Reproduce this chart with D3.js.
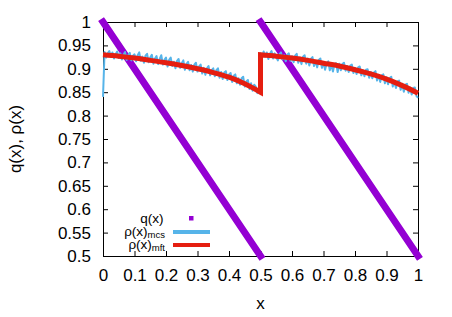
<!DOCTYPE html>
<html>
<head>
<meta charset="utf-8">
<script src="https://cdn.jsdelivr.net/npm/d3@7"></script>
<style>
  body { margin: 0; background: #fff; }
  text { font-family: "Liberation Sans", Arial, sans-serif; }
</style>
</head>
<body>
<div id="chart"></div>
<script>
// chart values
let xTicks = [0, 0.1, 0.2, 0.3, 0.4, 0.5, 0.6, 0.7, 0.8, 0.9, 1];
let yTicks = [0.5, 0.55, 0.6, 0.65, 0.7, 0.75, 0.8, 0.85, 0.9, 0.95, 1];

// q(x): two straight branches
let qBranches = [
    [[0, 1], [0.5, 0.5]],
    [[0.5, 1], [1, 0.5]]
];

// rho(x) mft, sampled every 0.05 on each half
let mftX1 = [0, 0.05, 0.1, 0.15, 0.2, 0.25, 0.3, 0.35, 0.4, 0.45, 0.5];
let mftY1 = [0.930, 0.927, 0.923, 0.918, 0.913, 0.907, 0.900, 0.892, 0.882, 0.868, 0.850];
let mftX2 = [0.5, 0.55, 0.6, 0.65, 0.7, 0.75, 0.8, 0.85, 0.9, 0.95, 1];
let mftY2 = [0.930, 0.927, 0.923, 0.918, 0.912, 0.906, 0.898, 0.889, 0.878, 0.864, 0.848];

// rho(x) mcs, one value every 0.005 from x=0 to x=1
let mcsStep = 0.005;
let mcsY = [
    0.840, 0.936, 0.924, 0.933, 0.938, 0.925, 0.935, 0.922, 0.931, 0.937,
    0.923, 0.933, 0.920, 0.930, 0.936, 0.919, 0.929, 0.934, 0.918, 0.928,
    0.931, 0.916, 0.929, 0.935, 0.917, 0.926, 0.913, 0.928, 0.932, 0.914,
    0.924, 0.930, 0.911, 0.922, 0.927, 0.910, 0.921, 0.929, 0.909, 0.919,
    0.924, 0.905, 0.919, 0.924, 0.906, 0.915, 0.901, 0.917, 0.921, 0.902,
    0.912, 0.918, 0.898, 0.910, 0.915, 0.897, 0.908, 0.894, 0.909, 0.913,
    0.894, 0.905, 0.909, 0.890, 0.902, 0.887, 0.901, 0.906, 0.886, 0.897,
    0.901, 0.884, 0.897, 0.901, 0.881, 0.893, 0.878, 0.892, 0.895, 0.876,
    0.888, 0.891, 0.872, 0.885, 0.888, 0.869, 0.880, 0.866, 0.880, 0.883,
    0.862, 0.873, 0.876, 0.857, 0.869, 0.853, 0.866, 0.862, 0.848, 0.855,
    0.933, 0.924, 0.937, 0.926, 0.935, 0.921, 0.932, 0.938, 0.922, 0.933,
    0.925, 0.918, 0.931, 0.935, 0.920, 0.929, 0.916, 0.930, 0.933, 0.917,
    0.927, 0.914, 0.928, 0.932, 0.913, 0.924, 0.910, 0.926, 0.929, 0.911,
    0.922, 0.907, 0.921, 0.925, 0.906, 0.917, 0.903, 0.919, 0.922, 0.902,
    0.914, 0.898, 0.912, 0.916, 0.897, 0.909, 0.894, 0.910, 0.912, 0.893,
    0.911, 0.897, 0.910, 0.913, 0.896, 0.906, 0.893, 0.907, 0.909, 0.891,
    0.902, 0.889, 0.903, 0.905, 0.886, 0.897, 0.884, 0.898, 0.899, 0.881,
    0.893, 0.880, 0.892, 0.895, 0.875, 0.887, 0.872, 0.886, 0.888, 0.869,
    0.882, 0.867, 0.880, 0.883, 0.862, 0.874, 0.859, 0.873, 0.875, 0.855,
    0.868, 0.851, 0.866, 0.868, 0.849, 0.860, 0.845, 0.859, 0.860, 0.842,
    0.838
];

let legendLabels = [
    {main: "q(x)", sub: ""},
    {main: "\u03c1(x)", sub: "mcs"},
    {main: "\u03c1(x)", sub: "mft"}
];

let colors = {q: "#9400d3", mcs: "#56b4e9", mft: "#e51e10"};

let width = 452, height = 317;
let margin = {top: 22, right: 34, bottom: 61, left: 103};
let plotW = width - margin.left - margin.right;
let plotH = height - margin.top - margin.bottom;

let svg = d3.select("#chart")
    .append("svg")
    .attr("width", width)
    .attr("height", height);

let g = svg.append("g")
    .attr("transform", `translate(${margin.left},${margin.top})`);

let x = d3.scaleLinear().domain([0, 1]).range([0, plotW]);
let y = d3.scaleLinear().domain([0.5, 1]).range([plotH, 0]);

// axes, ticks inward on all four sides
let fmt = d => d3.format("")(+d.toFixed(2));
let tickLen = 5;

let axisB = g.append("g")
    .attr("transform", `translate(0,${plotH})`)
    .call(d3.axisBottom(x).tickValues(xTicks).tickSize(-tickLen).tickPadding(13).tickFormat(fmt));
let axisT = g.append("g")
    .call(d3.axisTop(x).tickValues(xTicks).tickSize(-tickLen).tickFormat(""));
let axisL = g.append("g")
    .call(d3.axisLeft(y).tickValues(yTicks).tickSize(-tickLen).tickPadding(12).tickFormat(fmt));
let axisR = g.append("g")
    .attr("transform", `translate(${plotW},0)`)
    .call(d3.axisRight(y).tickValues(yTicks).tickSize(-tickLen).tickFormat(""));

[axisB, axisT, axisL, axisR].forEach(a => {
    a.select(".domain").attr("stroke", "#000").attr("stroke-width", 1);
    a.selectAll(".tick line").attr("stroke", "#000").attr("stroke-width", 1);
    a.selectAll("text").attr("font-size", 17).attr("fill", "#000")
        .style("font-family", "'Liberation Sans', Arial, sans-serif");
});

// axis labels
svg.append("text")
    .attr("x", margin.left + x(0.5))
    .attr("y", 309)
    .attr("text-anchor", "middle")
    .attr("font-size", 17)
    .text("x");

svg.append("text")
    .attr("transform", `translate(21,${margin.top + plotH / 2}) rotate(-90)`)
    .attr("text-anchor", "middle")
    .attr("font-size", 17)
    .text("q(x), \u03c1(x)");

let line = d3.line().x(d => x(d[0])).y(d => y(d[1]));

// q(x)
qBranches.forEach(b => {
    g.append("path")
        .datum(b)
        .attr("d", line)
        .attr("fill", "none")
        .attr("stroke", colors.q)
        .attr("stroke-width", 7)
        .attr("stroke-linecap", "square");
});

// rho mcs
let mcsData = mcsY.map((v, i) => [i * mcsStep, v]);
g.append("path")
    .datum(mcsData)
    .attr("d", line)
    .attr("fill", "none")
    .attr("stroke", colors.mcs)
    .attr("stroke-width", 2)
    .attr("stroke-linejoin", "round");

// rho mft
let curve = d3.line().x(d => x(d[0])).y(d => y(d[1])).curve(d3.curveMonotoneX);
let mft1 = mftX1.map((v, i) => [v, mftY1[i]]);
let mft2 = mftX2.map((v, i) => [v, mftY2[i]]);
g.append("path")
    .attr("d", curve(mft1) + "L" + x(mftX2[0]) + "," + y(mftY2[0]) + curve(mft2).replace(/^M/, "L"))
    .attr("fill", "none")
    .attr("stroke", colors.mft)
    .attr("stroke-width", 5)
    .attr("stroke-linejoin", "miter");

// legend
let legend = svg.append("g");
let legendY = [218, 232, 245];
let legendBase = [223, 235.5, 249];
legendLabels.forEach((l, i) => {
    let t = legend.append("text")
        .attr("x", l.sub ? 165 : 163.5)
        .attr("y", legendBase[i])
        .attr("text-anchor", "end")
        .attr("font-size", 13.5);
    t.append("tspan").text(l.main);
    if (l.sub) {
        t.append("tspan").attr("font-size", 9.5).attr("dy", 2).text(l.sub);
    }
});
legend.append("rect")
    .attr("x", 189).attr("y", legendY[0] - 2)
    .attr("width", 4.5).attr("height", 4.5)
    .attr("fill", colors.q);
legend.append("line")
    .attr("x1", 173).attr("x2", 210)
    .attr("y1", legendY[1]).attr("y2", legendY[1])
    .attr("stroke", colors.mcs).attr("stroke-width", 4);
legend.append("line")
    .attr("x1", 173).attr("x2", 210)
    .attr("y1", legendY[2]).attr("y2", legendY[2])
    .attr("stroke", colors.mft).attr("stroke-width", 4);
</script>
</body>
</html>
